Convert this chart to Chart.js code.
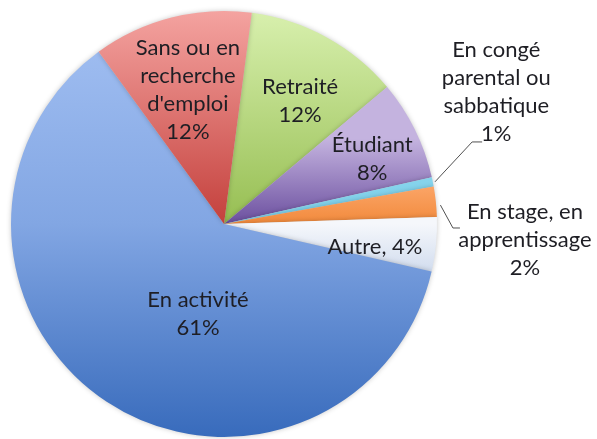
<html>
  <head>
    <title>Situation des répondants</title>
    <script src="https://cdn.jsdelivr.net/npm/chart.js@4"></script>
    <style>
      html, body { margin: 0; padding: 0; background: #fff; }
      #wrap { width: 597px; height: 439px; position: relative; }
    </style>
  </head>
  <body>
    <div id="wrap"><canvas id="SituationChart"></canvas></div>
    <script>
      // data (clockwise, starting just right of 12 o'clock)
      var categories = ['Retraité', 'Étudiant', 'En congé parental ou sabbatique', 'En stage, en apprentissage', 'Autre', 'En activité', "Sans ou en recherche d'emploi"];
      var shares = [11.8, 7.6, 0.7, 2.3, 4.1, 61.4, 12.1];
      var percentLabels = ['12%', '8%', '1%', '2%', '4%', '61%', '12%'];

      // how each label is wrapped
      var labelLines = [
        ['Retraité'],
        ['Étudiant'],
        ['En congé', 'parental ou', 'sabbatique'],
        ['En stage, en', 'apprentissage'],
        ['Autre, ' + percentLabels[4]],
        ['En activité'],
        ['Sans ou en', 'recherche', "d'emploi"]
      ];

      // label centre as [angle from top in degrees, distance as fraction of radius]
      var labelPos = [[31.7, 0.68], [66.3, 0.76], [64.2, 1.42], [93, 1.415], [98.7, 0.717], [196.1, 0.44], [344.9, 0.65]];
      // leader lines: [start, elbow] in polar, then a short horizontal tail
      var leaders = {
        2: { pts: [[78.7, 1.01], [71.7, 1.227]], tail: 10 },
        3: { pts: [[85.0, 1.02], [91.0, 1.075]], tail: 7 }
      };

      // gradient stops per slice, top of pie to bottom
      var sliceStops = [
        [[0, '#d8f0ae'], [0.5, '#96be52']],
        [[0.3, '#c4b3df'], [0.5, '#6b4f9f']],
        [[0, '#9ee0f4'], [1, '#5fc0e0']],
        [[0.4, '#fca86c'], [0.5, '#f28a3c']],
        [[0.5, '#f5f7fb'], [0.66, '#c2d1e9']],
        [[0, '#a4c1f3'], [0.5, '#82a6e3'], [1, '#386bbc']],
        [[0, '#f4a3a0'], [0.5, '#c4403c']]
      ];

      function sliceColor(c) {
        var area = c.chart.chartArea;
        if (!area) return '#888';
        var g = c.chart.ctx.createLinearGradient(0, area.top, 0, area.bottom);
        sliceStops[c.dataIndex].forEach(function(s) { g.addColorStop(s[0], s[1]); });
        return g;
      }

      function polar(arc, p) {
        var a = p[0] * Math.PI / 180;
        return { x: arc.x + Math.sin(a) * arc.outerRadius * p[1], y: arc.y - Math.cos(a) * arc.outerRadius * p[1] };
      }

      var shadowPlugin = {
        id: 'softShadow',
        beforeDatasetsDraw: function(chart) {
          chart.ctx.save();
          chart.ctx.shadowColor = 'rgba(0,0,0,0.22)';
          chart.ctx.shadowBlur = 5;
        },
        afterDatasetsDraw: function(chart) {
          chart.ctx.restore();
        }
      };

      var labelPlugin = {
        id: 'pieLabels',
        afterDatasetsDraw: function(chart) {
          var ctx = chart.ctx;
          var arcs = chart.getDatasetMeta(0).data;
          ctx.save();
          ctx.font = '22px Lato, "Open Sans", sans-serif';
          ctx.fillStyle = '#1e1e24';
          ctx.textAlign = 'center';
          ctx.textBaseline = 'middle';
          var lineH = 28;
          arcs.forEach(function(arc, i) {
            var lines = labelLines[i].slice();
            if (i !== 4) lines.push(percentLabels[i]);
            var c = polar(arc, labelPos[i]);
            var y0 = c.y - (lines.length - 1) * lineH / 2;
            lines.forEach(function(t, k) { ctx.fillText(t, c.x, y0 + k * lineH); });
            var l = leaders[i];
            if (l) {
              var a = polar(arc, l.pts[0]);
              var b = polar(arc, l.pts[1]);
              ctx.strokeStyle = '#505050';
              ctx.lineWidth = 1;
              ctx.beginPath();
              ctx.moveTo(a.x, a.y);
              ctx.lineTo(b.x, b.y);
              ctx.lineTo(b.x + l.tail, b.y);
              ctx.stroke();
            }
          });
          ctx.restore();
        }
      };

      var chart = new Chart(document.getElementById('SituationChart'), {
        type: 'pie',
        data: {
          labels: categories,
          datasets: [{
            data: shares,
            backgroundColor: sliceColor,
            borderWidth: 0
          }]
        },
        options: {
          responsive: true,
          maintainAspectRatio: false,
          animation: false,
          rotation: 7.5,
          layout: { padding: { left: 11, right: 160, top: 11, bottom: 2 } },
          plugins: {
            legend: { display: false },
            tooltip: { enabled: false }
          }
        },
        plugins: [shadowPlugin, labelPlugin]
      });
    </script>
  </body>
</html>
